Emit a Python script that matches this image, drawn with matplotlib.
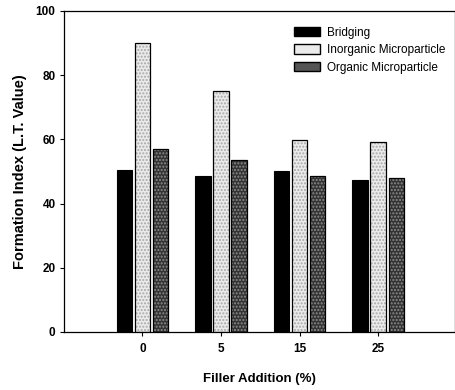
import numpy as np
import matplotlib.pyplot as plt
from matplotlib.patches import Patch

plt.rcParams['font.family'] = ['Liberation Sans', 'DejaVu Sans']

# Formation index per filler level
fillers = ['0', '5', '15', '25']
bridging = [50.5, 48.5, 50.0, 47.3]
inorganic = [90.0, 75.0, 59.8, 59.3]
organic = [57.0, 53.7, 48.5, 48.0]

x = np.arange(len(fillers))
w = 0.195
off = 0.23

fig = plt.figure(figsize=(4.56, 3.90), dpi=100)
ax = fig.add_axes([0.140, 0.149, 0.858, 0.823])

# speckled fill drawn first (hatch takes the edge colour), black outline on top
ax.bar(x - off, bridging, w, color='black', edgecolor='black', linewidth=0.8)
ax.bar(x, inorganic, w, color='#ebebeb', edgecolor='#a8a8a8', linewidth=0,
       hatch='.....')
ax.bar(x, inorganic, w, color='none', edgecolor='black', linewidth=0.9)
ax.bar(x + off, organic, w, color='#333333', edgecolor='#8c8c8c', linewidth=0,
       hatch='.....')
ax.bar(x + off, organic, w, color='none', edgecolor='black', linewidth=0.9)

ax.set_xlim(-1, 3.98)
ax.set_ylim(0, 100)
ax.set_yticks([0, 20, 40, 60, 80, 100])
ax.set_xticks(x)
ax.set_xticklabels(fillers)
ax.tick_params(axis='both', labelsize=8.5, length=3, width=0.8)
ax.tick_params(axis='y', pad=3)
ax.tick_params(axis='x', pad=5)
for lab in ax.get_xticklabels() + ax.get_yticklabels():
    lab.set_fontweight('bold')

ax.set_xlabel('Filler Addition (%)', fontsize=9.5, fontweight='bold', labelpad=13)
ax.set_ylabel('Formation Index (L.T. Value)', fontsize=10.5, fontweight='bold', labelpad=6)

for s in ax.spines.values():
    s.set_linewidth(0.9)

handles = [
    Patch(facecolor='black', edgecolor='black', label='Bridging'),
    Patch(facecolor='#ebebeb', edgecolor='black', label='Inorganic Microparticle'),
    Patch(facecolor='#555555', edgecolor='black', label='Organic Microparticle'),
]
ax.legend(handles=handles, loc='upper left', bbox_to_anchor=(0.575, 0.965),
          frameon=False, prop={'size': 8.5},
          handlelength=2.2, handleheight=0.85, handletextpad=0.65,
          labelspacing=0.45, borderaxespad=0)

fig.savefig('out.png', dpi=100)
